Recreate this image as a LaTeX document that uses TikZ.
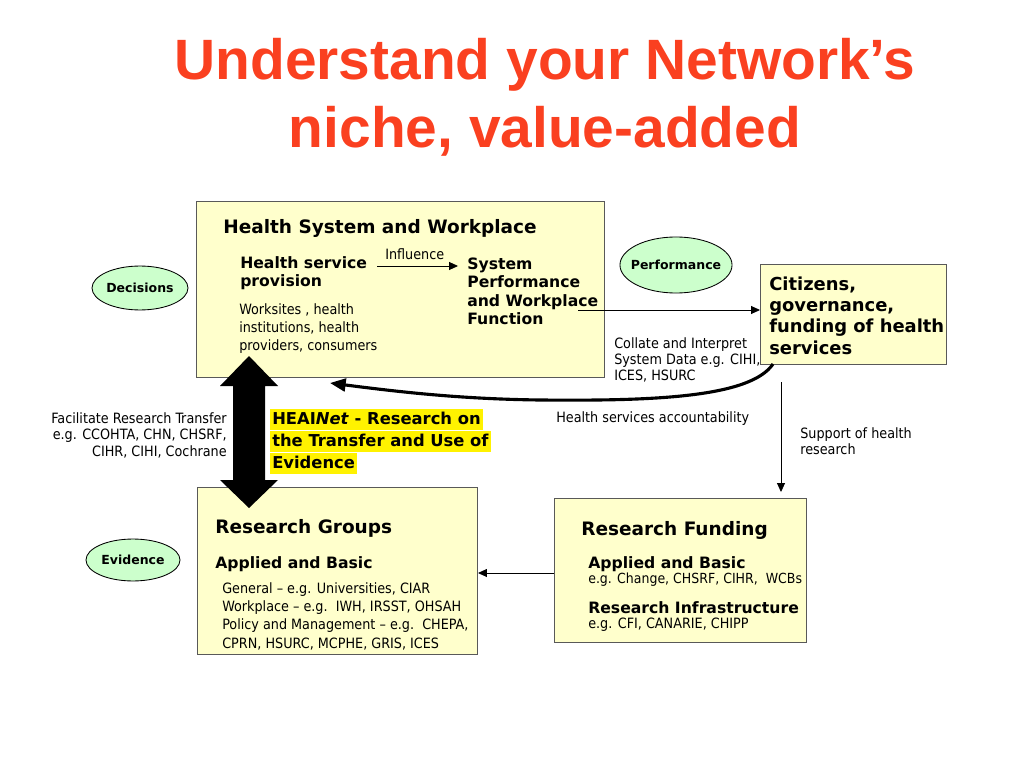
\documentclass[tikz,border=0pt]{standalone}
\usepackage{fontspec}
\setmainfont{DejaVu Sans Condensed}
\newfontfamily\headfont{DejaVu Sans}
\newfontfamily\titlefont{Liberation Sans}
\usetikzlibrary{arrows.meta, positioning, shapes.geometric}
\definecolor{boxyellow}{RGB}{255,255,204}
\definecolor{ovalgreen}{RGB}{204,255,204}
\definecolor{titlered}{RGB}{250,64,32}
\newcommand\pxu{0.703125pt}

\begin{document}
\begin{tikzpicture}[
        x=0.703125pt, y=-0.703125pt,
        box/.style={rectangle, draw=black!65, fill=boxyellow, line width=0.7pt, anchor=north west, inner sep=0},
        oval/.style={ellipse, draw, fill=ovalgreen, line width=0.6pt, inner xsep=-4pt, inner ysep=0, font=\headfont\bfseries\fontsize{8.8}{10}\selectfont},
        txt/.style={inner sep=0, anchor=north west, align=left},
        small/.style={txt, font=\fontsize{10}{#1}\selectfont},
        small/.default=12.7pt,
        bighead/.style={txt, font=\headfont\bfseries\fontsize{13}{15}\selectfont},
        subhead/.style={txt, font=\headfont\bfseries\fontsize{11}{12.7}\selectfont},
        hl/.style={fill=yellow, anchor=north west, inner xsep=1.4pt, inner ysep=0, text height=11.3pt, text depth=3.7pt, font=\headfont\bfseries\fontsize{11.5}{15}\selectfont},
        heading/.style={font=\titlefont\bfseries\fontsize{40}{47.8}\selectfont, text=titlered, align=center, inner sep=0, anchor=north},
        link/.style={-{Triangle[length=6.3pt, width=5.6pt]}, line width=0.6pt}
    ]
        \useasboundingbox (0,0) rectangle (1024,768);

        % Title
        \node[heading] (title) at (545,38) {Understand your Network’s\\niche, value-added};

        % Boxes
        \node[box, minimum width=408*\pxu, minimum height=176*\pxu] (hsw) at (196,201) {};
        \node[box, minimum width=186*\pxu, minimum height=100*\pxu] (cit) at (760,264) {};
        \node[box, minimum width=280*\pxu, minimum height=167*\pxu] (rg) at (197,487) {};
        \node[box, minimum width=252*\pxu, minimum height=144*\pxu] (rf) at (554,498) {};

        % Ovals
        \node[oval, minimum width=67.5pt, minimum height=30.9pt] (decisions) at (140,288) {Decisions};
        \node[oval, minimum width=78.8pt, minimum height=39.4pt] (perf) at (676,265) {Performance};
        \node[oval, minimum width=66.1pt, minimum height=29.5pt] (evidence) at (133,560) {Evidence};

        % Health system box
        \node[bighead] (hswtitle) at (223,219) {Health System and Workplace};
        \node[subhead] (provision) at (240,256) {Health service\\provision};
        \node[subhead] (sysperf) at (467,258) {System\\Performance\\and Workplace\\Function};
        \node[small] (influence) at (385,248) {Influence};
        \node[small] (worksites) at (239,303) {Worksites , health\\institutions, health\\providers, consumers};

        % Citizens box
        \node[txt, font=\headfont\bfseries\fontsize{12.6}{14.8}\selectfont] (citizens) at (769,277) {Citizens,\\governance,\\funding of health\\services};

        % Labels between boxes
        \node[small=11.25pt] (collate) at (614,337) {Collate and Interpret\\System Data e.g. CIHI,\\ICES, HSURC};
        \node[small] (account) at (556,411) {Health services accountability};
        \node[small=11.25pt] (support) at (800,427) {Support of health\\research};
        \node[small=11.7pt, anchor=north east, align=right] (facil) at (227,412) {Facilitate Research Transfer\\e.g. CCOHTA, CHN, CHSRF,\\CIHR, CIHI, Cochrane};

        % HEAINet
        \node[hl] (hea1) at (270,408.5) {HEAI\textit{Net} - Research on};
        \node[hl] (hea2) at (hea1.south west) {the Transfer and Use of};
        \node[hl] (hea3) at (hea2.south west) {Evidence};

        % Research groups box
        \node[bighead] (rgtitle) at (215,519) {Research Groups};
        \node[subhead] (rgbasic) at (215,556) {Applied and Basic};
        \node[small=12.9pt] (rglist) at (222,582) {General – e.g. Universities, CIAR\\Workplace – e.g.\ \ IWH, IRSST, OHSAH\\Policy and Management – e.g.\ \ CHEPA,\\CPRN, HSURC, MCPHE, GRIS, ICES};

        % Research funding box
        \node[bighead] (rftitle) at (581,521) {Research Funding};
        \node[subhead] (rfbasic) at (588,556) {Applied and Basic};
        \node[small, font=\fontsize{9.8}{12.7}\selectfont] (rfbasiceg) at (588,573) {e.g. Change, CHSRF, CIHR,\ \ WCBs};
        \node[subhead] (rfinfra) at (588,601) {Research Infrastructure};
        \node[small] (rfinfraeg) at (588,618) {e.g. CFI, CANARIE, CHIPP};

        % Connectors
        \coordinate (inflow) at (0,266);
        \coordinate (sysout) at (578,310);
        \coordinate (accstart) at (773,364);
        \coordinate (accend) at (330,383);
        \coordinate (supstart) at (781,382);
        \coordinate (fund) at (0,573);
        \coordinate (dtop) at (249,356);
        \coordinate (dbot) at (249,508);

        \draw[link] ([xshift=7pt]provision.east |- inflow) -- ([xshift=-6.3pt]sysperf.west |- inflow);
        \draw[link] (sysout) -- (sysout -| cit.west);
        \draw[line width=2.2pt, -{Triangle[length=11pt, width=9pt]}] (accstart) .. controls (750,398) and (650,401) .. (540,400) .. controls (460,399) and (400,392) .. (accend);
        \draw[link, shorten >=4.2pt] (supstart) -- (supstart |- rf.north);
        \draw[link] (rf.west |- fund) -- (rg.east |- fund);

        % Double arrow between the two main boxes
        \fill (dtop) -- ++(29,30) -- ++(-13,0) -- ++(0,94) -- ++(13,0) -- (dbot) -- ++(-29,-28) -- ++(13,0) -- ++(0,-94) -- ++(-13,0) -- cycle;
    \end{tikzpicture}
\end{document}
